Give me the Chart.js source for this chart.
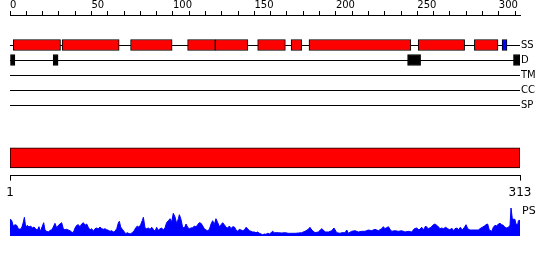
<!DOCTYPE html>
<html>
<head>
<meta charset="utf-8">
<script src="https://cdn.jsdelivr.net/npm/chart.js@4.4.1/dist/chart.umd.min.js"></script>
<style>
body { margin: 0; background: #fff; }
#wrap { position: relative; width: 550px; height: 260px; }
canvas { position: absolute; left: 0; }
</style>
</head>
<body>
<div id="wrap">
<canvas id="tracks" width="550" height="122" style="top:0"></canvas>
<canvas id="seq" width="550" height="65" style="top:140px"></canvas>
<canvas id="ps" width="550" height="46" style="top:199px"></canvas>
</div>
<script>
//sequence length and track names
var seqLength = 313;
var trackNames = ['SS', 'D', 'TM', 'CC', 'SP'];
var trackRows = [2, 3, 4, 5, 6];

//secondary structure: helix (red) and strand (blue), residue ranges
var helixRanges = [[2, 31], [32, 67], [74, 99.5], [109, 126], [126, 146], [152, 169], [172.5, 179], [183.5, 246], [250.5, 279], [285, 299.5]];
var strandRanges = [[302, 305]];
//disordered regions
var disorderRanges = [[0, 3], [26.5, 29.5], [244, 252], [309, 313]];

//axis labels
var topTickLabels = [0, 50, 100, 150, 200, 250, 300];
var bottomTickLabels = [1, 313];

//PS profile (residue, value)
var psPos = [1, 2, 3, 4.1, 5.1, 6.1, 7.1, 8.1, 9.2, 9.8,
    10.6, 11.6, 12.6, 13.6, 14.7, 15.7, 16.7, 17.7, 18.7, 19.6,
    20.6, 21.6, 22.4, 23.4, 24.5, 25.5, 26.5, 27.5, 28.5, 29.6,
    30.6, 31.6, 32.6, 33.6, 34.6, 35.7, 36.7, 37.7, 38.7, 39.7,
    40.8, 41.8, 42.8, 43.8, 44.8, 45.9, 46.9, 47.9, 48.9, 49.9,
    51, 52, 53, 54, 55, 56.1, 57.1, 58.1, 59.1, 60.1,
    61.2, 62.2, 63.2, 64.2, 65.2, 66.3, 67.3, 67.9, 68.7, 69.7,
    70.7, 71.8, 72.8, 73.8, 74.8, 75.8, 76.9, 77.9, 78.9, 79.9,
    80.9, 82, 82.6, 83.6, 84.6, 85.6, 86.7, 87.7, 88.7, 89.7,
    90.7, 91.7, 92.8, 93.8, 94.8, 95.8, 96.8, 97.9, 98.9, 99.9,
    100.9, 101.9, 103, 104, 104.6, 105.6, 106.6, 107.7, 108.7, 109.7,
    110.7, 111.7, 112.8, 113.8, 114.8, 115.8, 116.8, 117.9, 118.9, 119.9,
    120.9, 121.9, 123, 124, 125, 126, 127, 128.1, 129.1, 130.1,
    131.1, 132.1, 133.2, 134.2, 135.2, 136.2, 137.2, 138.3, 139.3, 140.3,
    141.3, 142.3, 143.4, 144.4, 145.4, 146.4, 147.4, 148.5, 149.5, 150.5,
    151.5, 152.5, 153.6, 154.6, 155.6, 156.6, 157.6, 158.7, 159.7, 160.7,
    161.7, 162.7,
    165.2, 167.2, 169.2, 171.3, 173.3, 175.4, 177.4, 179.4, 181.5, 183.5,
    184.5, 185.6, 187.6, 189.6, 191.7, 192.7, 193.7, 195.8, 197.8, 199.2,
    200.9, 202.9, 203.9, 206, 207, 208, 210, 212.1, 214.1, 216.2,
    218.2, 220.2, 222.3, 224.3, 226.3, 228.4, 229.4, 230.4, 232.5, 233.5,
    234.5, 236.5, 238.6, 240.6, 242.7, 244.7, 246.7, 248.4, 249.8, 251.2,
    252.9, 253.9, 255.3, 256.9, 258.6, 260, 261, 262.6, 264.1, 265.1,
    266.1, 267.5, 268.8, 270.2, 271.2, 272.2, 273.2, 274.5, 275.3, 276.5,
    277.7, 279, 280, 281, 282.4, 283.4, 285.5, 287.5, 288.5, 289.9,
    291.2, 292.2, 293.2, 294.2, 295.7, 296.7, 297.7, 298.7, 299.8, 300.8,
    301.8, 302.8, 303.8, 304.9, 305.9, 306.9, 307.5, 308.3, 309.1, 309.9,
    310.5, 311.6, 312, 313];
var psVal = [16.7, 15.7, 10, 11.3, 10.7, 7.3, 6.7, 8, 14, 18.7,
    9, 10.7, 9, 10, 8, 9, 7.3, 5.7, 9.3, 4.7,
    9, 13.3, 6, 4.7, 4, 5.7, 6, 9, 12.7, 8,
    10.7, 12, 13.3, 7.3, 6.3, 6.7, 6, 5.3, 4, 3.3,
    8, 10.7, 11.3, 9, 12, 13.3, 10.7, 12, 8.7, 6,
    7.3, 4.7, 7.3, 8, 7, 9, 7.3, 6.7, 7.3, 6.3,
    5.7, 4.7, 5.3, 4, 4.7, 7.3, 13.3, 14.7, 9, 6.7,
    4.7, 2.3, 3.3, 2.3, 2.3, 3.3, 5.3, 8, 10, 8.7,
    11.3, 15.7, 18.7, 8, 7.3, 8, 6.7, 8.7, 6.7, 4.7,
    8.7, 5.7, 7.3, 8, 6, 8, 13.3, 15.3, 17.3, 14,
    22.7, 19.3, 12.3, 17.3, 21.3, 16.7, 8.7, 8, 12, 8.7,
    7.3, 8, 8.3, 10, 9, 11.3, 13.3, 12.7, 10, 7.3,
    6, 5.3, 6.7, 12, 15.3, 11.3, 17.3, 13.3, 9.3, 11.3,
    13.3, 11.3, 8.7, 8, 10, 7.3, 9.3, 9, 6, 4.7,
    6.7, 6, 5.3, 6, 8.7, 7.3, 5.3, 4.7, 4, 4,
    3.3, 4, 2.7, 2, 1.3, 2, 1.7, 2.7, 2, 3.3,
    4.7, 3.3,
    3.3, 3, 3.3, 2.7, 2.7, 2.7, 3, 3.3, 4.7, 6.7,
    8.7, 6, 3.3, 4, 7.3, 6, 4, 4, 5.3, 8,
    3.3, 2.7, 3.3, 3.3, 6, 2.7, 4.7, 5.3, 4, 4.7,
    4.7, 6, 5.3, 6.7, 5.3, 7.3, 9.3, 7.3, 9.3, 6.7,
    4.7, 5.3, 4.7, 5.3, 4, 4.7, 4, 7.3, 8, 6,
    8.7, 6, 10, 7.3, 8.7, 11.3, 12, 10, 7.3, 8,
    7.3, 8.7, 7.3, 6, 8, 5.3, 7.3, 8, 6, 8.7,
    6, 8.7, 11.3, 7.3, 6, 6, 6, 6, 7.3, 8.7,
    10, 11.3, 12, 6, 4.7, 8.7, 10.7, 10, 12, 12.7,
    11.3, 10.7, 8.7, 8, 8.7, 10.7, 28, 17.3, 16.7, 16.7,
    12, 11.3, 15.3, 15.7];

var font = 'DejaVu Sans';

//turn residue ranges into floating bar points on one row
function rangeData(ranges, row) {
    var out = [];
    for (var i = 0; i < ranges.length; i++) {
        out.push({x: ranges[i], y: row});
    }
    return out;
}

//fixed width for the right label column
function fixWidth(scale) {
    scale.width = 30;
}

var noPlugins = {legend: {display: false}, tooltip: {enabled: false}};

//feature tracks with the residue ruler on top
new Chart(document.getElementById('tracks'), {
    type: 'bar',
    data: {
        datasets: [
            {data: rangeData(helixRanges, trackRows[0]), backgroundColor: '#ff0000'},
            {data: rangeData(strandRanges, trackRows[0]), backgroundColor: '#0000ff'},
            {data: rangeData(disorderRanges, trackRows[1]), backgroundColor: '#000000'}
        ]
    },
    options: {
        indexAxis: 'y',
        responsive: false,
        animation: false,
        layout: {padding: {left: 10, top: 0, right: 0, bottom: 9.5}},
        datasets: {
            bar: {grouped: false, barThickness: 11, borderColor: '#000000', borderWidth: 1, borderSkipped: false}
        },
        plugins: noPlugins,
        scales: {
            x: {
                type: 'linear',
                position: 'top',
                min: 0,
                max: seqLength,
                afterBuildTicks: function(scale) {
                    var ticks = [];
                    for (var v = 0; v < seqLength; v += 10) {
                        ticks.push({value: v});
                    }
                    scale.ticks = ticks;
                },
                ticks: {
                    autoSkip: false,
                    maxRotation: 0,
                    align: 'start',
                    padding: 0,
                    color: '#000000',
                    font: {family: font, size: 10, lineHeight: 1.1},
                    callback: function(v) {
                        return topTickLabels.indexOf(v) >= 0 ? String(v) : '';
                    }
                },
                grid: {drawOnChartArea: false, tickLength: 4, color: '#000000'},
                border: {color: '#000000'}
            },
            y: {
                type: 'linear',
                position: 'right',
                reverse: true,
                offset: false,
                min: 0,
                max: 6.5,
                afterBuildTicks: function(scale) {
                    scale.ticks = trackRows.map(function(v) { return {value: v}; });
                },
                afterFit: fixWidth,
                ticks: {
                    padding: 1,
                    color: '#000000',
                    font: {family: font, size: 10},
                    callback: function(v) {
                        return trackNames[trackRows.indexOf(v)];
                    }
                },
                grid: {color: '#000000', drawTicks: false, tickLength: 0, offset: false},
                border: {display: false}
            }
        }
    }
});

//whole sequence bar with its own ruler
new Chart(document.getElementById('seq'), {
    type: 'bar',
    data: {
        datasets: [{data: [{x: [bottomTickLabels[0], seqLength], y: 0.5}], backgroundColor: '#ff0000'}]
    },
    options: {
        indexAxis: 'y',
        responsive: false,
        animation: false,
        layout: {padding: {left: 10, top: 0, right: 30, bottom: 0}},
        datasets: {
            bar: {grouped: false, barThickness: 20, borderColor: '#000000', borderWidth: 1, borderSkipped: false}
        },
        plugins: noPlugins,
        scales: {
            x: {
                type: 'linear',
                position: 'bottom',
                min: 1,
                max: seqLength,
                afterBuildTicks: function(scale) {
                    scale.ticks = bottomTickLabels.map(function(v) { return {value: v}; });
                },
                ticks: {
                    autoSkip: false,
                    maxRotation: 0,
                    padding: 5,
                    color: '#000000',
                    font: {family: font, size: 12}
                },
                grid: {drawOnChartArea: false, tickLength: 5, color: '#000000'},
                border: {color: '#000000'}
            },
            y: {type: 'linear', display: false, offset: false, min: 0, max: 1}
        }
    }
});

//PS profile
var psPoints = [];
for (var i = 0; i < psPos.length; i++) {
    psPoints.push({x: psPos[i], y: psVal[i]});
}
new Chart(document.getElementById('ps'), {
    type: 'line',
    data: {
        datasets: [{
            data: psPoints,
            borderColor: '#0000ff',
            backgroundColor: '#0000ff',
            borderWidth: 1,
            pointRadius: 0,
            fill: 'origin'
        }]
    },
    options: {
        responsive: false,
        animation: false,
        layout: {padding: {left: 10, top: 9, right: 0, bottom: 9}},
        plugins: noPlugins,
        scales: {
            x: {type: 'linear', display: false, min: 1, max: seqLength},
            y: {
                type: 'linear',
                position: 'right',
                min: 0,
                max: 28,
                afterBuildTicks: function(scale) {
                    scale.ticks = [{value: 24.5}];
                },
                afterFit: fixWidth,
                ticks: {
                    padding: 2,
                    color: '#000000',
                    font: {family: font, size: 11},
                    callback: function() { return 'PS'; }
                },
                grid: {display: false, drawTicks: false, tickLength: 0},
                border: {display: false}
            }
        }
    }
});
</script>
</body>
</html>
